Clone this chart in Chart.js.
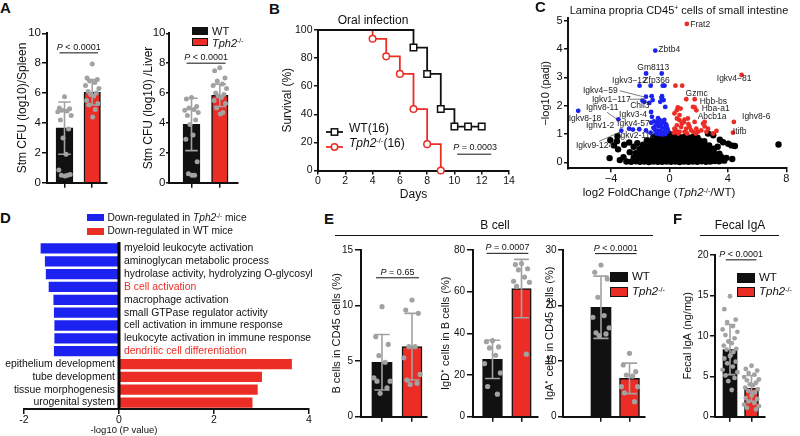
<!DOCTYPE html>
<html>
<head>
<meta charset="utf-8">
<script src="https://cdn.jsdelivr.net/npm/chart.js@4"></script>
<style>
body { margin: 0; background: #fff; }
#fig { position: relative; width: 800px; height: 436px; overflow: hidden; font-family: 'Liberation Sans', Arial, sans-serif; color: #111; }
#fig canvas { position: absolute; }
.t { position: absolute; white-space: nowrap; line-height: 1; transform: translateY(-50%); }
.t.c { transform: translate(-50%, -50%); }
.t sup { font-size: 0.62em; vertical-align: 0.5em; line-height: 0; }
.sw { position: absolute; box-sizing: border-box; }
.rule { position: absolute; height: 0; border-top: 1.5px solid #111; }
</style>
</head>
<body>
<div id="fig"></div>
<script>
// ---------- data ----------

// A: Stm CFU (log10), WT vs Tph2-/-
const spleenWT = [5.75, 5.0, 4.95, 4.85, 4.8, 4.75, 4.5, 4.2, 3.6, 3.0, 1.9, 0.85, 0.55, 0.5, 0.5, 0.45];
const spleenKO = [7.95, 7.0, 6.9, 6.8, 6.7, 6.5, 6.3, 6.1, 6.0, 5.9, 5.8, 5.5, 5.3, 5.2, 4.9, 4.4];
const spleenMean = [3.65, 6.05];
const spleenSD = [1.75, 0.85];
const liverWT = [5.7, 5.6, 5.1, 5.0, 4.9, 4.85, 4.7, 4.5, 4.2, 3.9, 3.2, 2.9, 1.4, 0.6, 0.5, 0.5];
const liverKO = [7.7, 7.5, 7.0, 6.8, 6.6, 6.5, 6.3, 6.0, 5.9, 5.8, 5.7, 5.5, 5.3, 5.0, 4.7, 4.6];
const liverMean = [3.9, 5.85];
const liverSD = [1.75, 0.75];

// B: survival after oral infection
const wtDays = [0, 7, 8, 9, 10, 11, 12];
const wtSurvival = [100, 87.5, 68.75, 43.75, 31.25, 31.25, 31.25];
const koDays = [0, 4, 5, 6, 7, 8, 9];
const koSurvival = [100, 93.75, 81.25, 68.75, 43.75, 18.75, 0];

// C: volcano, [log2FC, -log10 padj]
const volcanoRed = [
  [1.19, 4.89], [4.94, 3.09], [0.41, 2.71], [0.87, 2.71], [1.15, 2.23], [1.73, 2.23],
  [0.57, 1.94], [0.5, 1.84], [1.61, 1.96], [1.73, 1.94], [1.84, 1.84], [0.76, 1.9],
  [4.41, 1.43], [4.35, 1.05], [2.41, 1.43], [2.41, 1.27], [2.99, 1.02], [3.22, 1.11],
  [2.64, 1.19], [2.3, 1.37], [0.51, 1.55], [0.69, 1.49], [1.03, 1.51], [1.26, 1.55],
  [0.51, 1.31], [0.8, 1.25], [1.15, 1.19], [1.49, 1.13], [1.84, 1.19], [2.18, 1.13],
  [2.53, 1.08], [0.46, 1.13], [0.69, 1.08], [1.03, 1.08], [1.61, 1.08], [1.95, 1.08],
  [0.34, 1.73], [0.69, 1.67], [0.99, 1.42], [1.72, 1.43], [0.34, 1.19], [1.38, 1.25],
  [0.3, 1.05], [0.85, 1.38], [1.3, 1.35], [0.6, 1.02], [1.2, 1.02], [1.8, 1.02]
];
const volcanoBlue = [
  [-0.97, 3.95], [-1.6, 3.14], [-0.53, 3.14], [-2.05, 2.71], [-1.29, 2.71], [-0.46, 2.71],
  [-0.34, 2.71], [-1.61, 2.32], [-1.22, 2.34], [-1.15, 2.2], [-1.38, 2.1], [-1.72, 2.14],
  [-1.85, 2.18], [-0.51, 2.34], [-0.4, 2.2], [-0.63, 2.14], [-0.29, 1.96], [-0.55, 2.28],
  [-6.25, 1.82], [-1.26, 1.78], [-3.5, 1.52], [-1.2, 1.61], [-0.78, 1.56], [-3.3, 1.12],
  [-2.76, 1.19], [-2.5, 1.16], [-2.07, 1.17], [-1.61, 1.13], [-1.05, 1.45], [-0.85, 1.42],
  [-0.65, 1.48], [-0.45, 1.4], [-0.25, 1.35], [-0.95, 1.3], [-0.75, 1.28], [-0.55, 1.25],
  [-0.35, 1.22], [-0.15, 1.2], [-1.0, 1.15], [-0.8, 1.12], [-0.6, 1.1], [-0.4, 1.08],
  [-0.2, 1.06], [-0.9, 1.02], [-0.7, 1.0], [-0.5, 0.98], [-0.3, 1.0], [-1.1, 1.22],
  [-0.6, 1.36], [-0.35, 1.5], [-0.2, 1.3], [-0.1, 1.12], [-1.25, 1.4], [-1.3, 1.05]
];
const volcanoOther = [
  [-2.95, 0.03], [-2.62, 0.02], [-2.3, 0.04], [-2.02, 0.02], [-1.72, 0.03], [-1.41, 0.01], [-1.1, 0.03],
  [-0.8, 0.02], [-0.5, 0.02], [-0.2, 0.03], [0.1, 0.02], [0.4, 0.03], [0.7, 0.01], [1.0, 0.03],
  [1.3, 0.02], [1.6, 0.03], [1.9, 0.02], [2.2, 0.04], [2.5, 0.02], [2.8, 0.03], [3.1, 0.05],
  [3.4, 0.04], [3.75, 0.06],
  [-3.15, 0.18], [-2.45, 0.17], [-2.15, 0.16], [-1.86, 0.18], [-1.55, 0.17], [-1.25, 0.16],
  [-0.95, 0.18], [-0.65, 0.17], [-0.35, 0.16], [-0.05, 0.17], [0.25, 0.18], [0.55, 0.16],
  [0.85, 0.17], [1.15, 0.18], [1.45, 0.16], [1.75, 0.17], [2.05, 0.18], [2.35, 0.16],
  [2.65, 0.17], [2.95, 0.18], [3.25, 0.17], [3.55, 0.19], [3.9, 0.16],
  [-2.32, 0.32], [-2.0, 0.31], [-1.7, 0.33], [-1.4, 0.32], [-1.1, 0.31], [-0.8, 0.33],
  [-0.5, 0.32], [-0.2, 0.31], [0.1, 0.32], [0.4, 0.33], [0.7, 0.31], [1.0, 0.32], [1.3, 0.33],
  [1.6, 0.31], [1.9, 0.32], [2.2, 0.33], [2.5, 0.31], [2.8, 0.32], [3.1, 0.3], [3.42, 0.31],
  [-2.05, 0.47], [-1.75, 0.46], [-1.45, 0.48], [-1.15, 0.47], [-0.85, 0.46], [-0.55, 0.48],
  [-0.25, 0.47], [0.05, 0.46], [0.35, 0.48], [0.65, 0.47], [0.95, 0.46], [1.25, 0.48],
  [1.55, 0.47], [1.85, 0.46], [2.15, 0.48], [2.45, 0.47], [2.75, 0.46], [3.05, 0.48],
  [-1.8, 0.62], [-1.5, 0.61], [-1.2, 0.63], [-0.9, 0.62], [-0.6, 0.61], [-0.3, 0.63], [0.0, 0.62],
  [0.3, 0.61], [0.6, 0.63], [0.9, 0.62], [1.2, 0.61], [1.5, 0.63], [1.8, 0.62], [2.1, 0.61],
  [2.4, 0.63], [2.72, 0.6],
  [-1.55, 0.77], [-1.25, 0.76], [-0.95, 0.78], [-0.65, 0.77], [-0.35, 0.76], [-0.05, 0.78],
  [0.25, 0.77], [0.55, 0.76], [0.85, 0.78], [1.15, 0.77], [1.45, 0.76], [1.75, 0.78],
  [2.05, 0.77], [2.38, 0.75],
  [-1.1, 0.9], [-0.8, 0.91], [-0.5, 0.89], [-0.2, 0.92], [0.1, 0.9], [0.4, 0.91], [0.7, 0.89],
  [1.0, 0.9], [1.3, 0.88], [1.6, 0.9], [1.92, 0.87], [-0.35, 1.0], [-0.05, 1.01], [0.2, 0.99],
  [-3.52, 0.46], [-3.1, 0.62], [-2.72, 0.36], [-3.6, 0.75], [-4.05, 0.78], [-3.56, 0.92],
  [-3.8, 0.6], [-2.76, 0.7], [-4.1, 0.15], [-3.4, 0.08], [-2.45, 0.55], [-2.2, 0.68],
  [4.02, 0.66], [4.48, 0.58], [4.25, 0.6], [3.67, 0.71], [3.45, 0.8], [3.0, 0.96],
  [2.64, 1.02], [7.47, 0.63], [3.3, 0.55], [4.3, 0.12]
];
const volcanoXTicks = [-4, 0, 4, 8];
const volcanoYTicks = [0, 1, 2, 3, 4, 5];
// gene name, label anchor (log2FC, -log10 padj)
const geneLabels = [
  ['Frat2', 1.43, 4.86], ['Zbtb4', -0.76, 3.97], ['Gm8113', -2.2, 3.33], ['Igkv3\u221212', -3.93, 2.87],
  ['Zfp366', -1.79, 2.87], ['Igkv4\u221281', 3.24, 2.94], ['Igkv4\u221259', -5.93, 2.52],
  ['Igkv1\u2212117', -5.31, 2.23], ['Chil3', -2.69, 1.99], ['Gzmc', 1.1, 2.41], ['Hbb-bs', 2.07, 2.16],
  ['Hba-a1', 2.21, 1.91], ['Ighv8-11', -5.72, 1.95], ['Igkv8-18', -6.9, 1.56], ['Igkv3-4', -3.45, 1.67],
  ['Abcb1a', 1.93, 1.63], ['Ighv8-6', 4.97, 1.63], ['Ighv1-2', -5.72, 1.28], ['Igkv4-57', -3.59, 1.35],
  ['Itifb', 4.34, 1.1], ['Igkv2-112', -3.52, 0.96], ['Igkv9-124', -6.41, 0.6]
];
const geneLeaders = [
  [-3.4, 2.53, -1.66, 2.3], [-2.76, 2.23, -1.79, 2.23], [-4.28, 1.77, -3.59, 1.52], [-4.83, 0.74, -3.45, 1.06]
];

// D: GO terms, signed -log10 (P value)
const goTerms = [
  'myeloid leukocyte activation', 'aminoglycan metabolic process', 'hydrolase activity, hydrolyzing O-glycosyl',
  'B cell activation', 'macrophage activation', 'small GTPase regulator activity',
  'cell activation in immune response', 'leukocyte activation in immune response', 'dendritic cell differentiation',
  'epithelium development', 'tube development', 'tissue morphogenesis', 'urogenital system'
];
const goValues = [-1.65, -1.56, -1.54, -1.48, -1.38, -1.37, -1.36, -1.36, -1.37, 3.64, 3.01, 2.92, 2.81];
const goHighlight = ['B cell activation', 'dendritic cell differentiation'];

// E: B cell subsets
const bcellWT = [9.9, 7.2, 6.5, 5.5, 4.9, 3.5, 3.2, 3.2, 2.6, 2.1];
const bcellKO = [10.5, 9.6, 9.3, 6.3, 6.3, 5.3, 3.8, 3.3, 3.0, 2.9];
const bcellMean = [4.9, 6.3];
const bcellSD = [2.5, 3.0];
const igdWT = [36.5, 36.0, 33.5, 33.0, 29.5, 25.5, 21.0, 14.5, 10.8];
const igdKO = [73.5, 73.0, 71.0, 70.5, 67.0, 65.0, 64.5, 62.5, 30.0];
const igdMean = [27.5, 61.5];
const igdSD = [9.2, 14.0];
const igaWT = [27.3, 26.0, 24.8, 21.5, 18.2, 17.9, 16.0, 15.1, 14.9, 14.6];
const igaKO = [11.4, 9.3, 8.1, 7.5, 7.3, 5.4, 5.4, 4.3, 2.7];
const igaMean = [19.7, 6.9];
const igaSD = [5.6, 2.75];

// F: fecal IgA (ng/mg)
const fecalWT = [14.9, 13.3, 12.0, 11.7, 11.2, 10.8, 10.5, 10.1, 9.7, 9.3, 9.1, 8.8, 8.4, 8.3, 8.0, 7.6,
  7.5, 7.2, 6.8, 6.6, 6.2, 5.8, 5.5, 5.1, 4.8, 4.4, 3.3];
const fecalKO = [6.3, 5.9, 5.7, 5.4, 5.2, 4.9, 4.6, 4.5, 4.2, 4.0, 3.9, 3.6, 3.4, 3.2, 3.0, 2.9, 2.6, 2.3,
  2.2, 1.9, 1.7, 1.5, 1.3, 1.1, 0.9];
const fecalMean = [8.3, 3.5];
const fecalSD = [3.1, 1.6];

// ---------- drawing ----------
const RED = '#ec2d26', BLUE = '#1c22f0', GRAY = '#a2a2a2', INK = '#111';
const FONT = "'Liberation Sans', Arial, sans-serif";
const TPH2 = '<i>Tph2</i><sup>-/-</sup>';
const JIT = [0, -5, 5, -2.5, 2.5, -6.5, 6.5, -4, 4, -1.5, 1.5, -5.5, 5.5, -3, 3, 0.5];

Chart.defaults.font.family = FONT;
Chart.defaults.color = INK;
Chart.defaults.animation = false;
Chart.defaults.events = [];
Chart.defaults.plugins.legend.display = false;
Chart.defaults.plugins.tooltip.enabled = false;

const fig = document.getElementById('fig');

function canvasAt(x, y, w, h) {
  const c = document.createElement('canvas');
  c.width = w; c.height = h;
  c.style.left = x + 'px'; c.style.top = y + 'px';
  c.style.width = w + 'px'; c.style.height = h + 'px';
  fig.appendChild(c);
  return c;
}

function text(html, x, y, size, opts = {}) {
  const d = document.createElement('div');
  d.className = 't' + (opts.center ? ' c' : '');
  d.style.left = x + 'px';
  d.style.top = y + 'px';
  d.style.fontSize = size + 'px';
  if (opts.bold) d.style.fontWeight = 'bold';
  if (opts.color) d.style.color = opts.color;
  d.innerHTML = html;
  fig.appendChild(d);
}

function swatch(x, y, w, h, color, border = true) {
  const d = document.createElement('div');
  d.className = 'sw';
  d.style.cssText = `left:${x}px;top:${y}px;width:${w}px;height:${h}px;background:${color};` +
    (border ? 'border:1px solid #111;' : '');
  fig.appendChild(d);
}

function rule(x, y, w) {
  const d = document.createElement('div');
  d.className = 'rule';
  d.style.cssText = `left:${x}px;top:${y}px;width:${w}px;`;
  fig.appendChild(d);
}

function zeroPad(s) {
  s.paddingLeft = 0; s.paddingRight = 0; s.paddingTop = 0; s.paddingBottom = 0;
}

function yAxis(o) {
  return {
    min: o.min, max: o.max,
    afterBuildTicks: o.ticks ? s => { s.ticks = o.ticks.map(v => ({ value: v })); } : undefined,
    ticks: { stepSize: o.step, font: { size: o.tick }, padding: o.pad, color: INK },
    grid: { drawOnChartArea: false, color: INK, lineWidth: 1.5, tickLength: o.tl },
    border: { color: INK, width: 2 },
    title: { display: true, text: o.title, font: { size: o.tsize }, padding: 0, color: INK },
    afterFit: s => { s.width = o.width; zeroPad(s); }
  };
}

// italic P followed by the rest, centred on cx
function pText(ctx, rest, cx, base, size) {
  ctx.font = `italic ${size}px ${FONT}`;
  const wP = ctx.measureText('P').width;
  ctx.font = `${size}px ${FONT}`;
  const wR = ctx.measureText(rest).width;
  const x0 = cx - (wP + wR) / 2;
  ctx.fillStyle = INK;
  ctx.textAlign = 'left';
  ctx.textBaseline = 'alphabetic';
  ctx.font = `italic ${size}px ${FONT}`;
  ctx.fillText('P', x0, base);
  ctx.font = `${size}px ${FONT}`;
  ctx.fillText(rest, x0 + wP, base);
}

function errorBars(o) {
  return {
    id: 'errorBars',
    afterDatasetDraw(chart, args) {
      if (args.meta.type !== 'bar') return;
      const { ctx, scales: { x, y } } = chart;
      ctx.save();
      ctx.strokeStyle = GRAY;
      ctx.lineWidth = 1.6;
      o.means.forEach((m, i) => {
        const px = x.getPixelForValue(i);
        const hi = y.getPixelForValue(m + o.sds[i]), lo = y.getPixelForValue(m - o.sds[i]);
        const w = o.barW * 0.38;
        ctx.beginPath();
        ctx.moveTo(px, hi); ctx.lineTo(px, lo);
        ctx.moveTo(px - w, hi); ctx.lineTo(px + w, hi);
        ctx.moveTo(px - w, lo); ctx.lineTo(px + w, lo);
        ctx.stroke();
      });
      ctx.restore();
    }
  };
}

function pBracket(o) {
  return {
    id: 'pBracket',
    afterDraw(chart) {
      const { ctx, scales: { x, y } } = chart;
      const xa = x.getPixelForValue(0) - o.barW * 0.3, xb = x.getPixelForValue(1) + o.barW * 0.35;
      const py = y.getPixelForValue(o.pY);
      ctx.save();
      ctx.strokeStyle = INK;
      ctx.lineWidth = 1;
      ctx.beginPath(); ctx.moveTo(xa, py); ctx.lineTo(xb, py); ctx.stroke();
      pText(ctx, o.pText, (xa + xb) / 2, py - 3, 9);
      ctx.restore();
    }
  };
}

// bar (mean) + SD + individual dots, two groups
function dotBarPanel(o) {
  const [x0, y0, x1, y1] = o.plot;
  const cl = Math.round(o.titleX - o.tsize * 0.6), ct = Math.round(y0 - 12);
  const cr = Math.round(x1 + 6), cb = Math.round(y1 + 9);
  const cv = canvasAt(cl, ct, cr - cl, cb - ct);
  const unit = o.centers[1] - o.centers[0];
  const xmin = -(o.centers[0] - x0) / unit, xmax = 1 + (x1 - o.centers[1]) / unit;
  const k = (o.spread || 1) * o.barW / 16;
  const dots = [];
  o.dots.forEach((vals, g) => vals.forEach((v, i) => {
    dots.push({ x: g + JIT[i % JIT.length] * k / unit, y: v });
  }));
  new Chart(cv, {
    type: 'bar',
    data: {
      datasets: [
        {
          order: 2,
          data: o.means.map((m, i) => ({ x: i, y: m })),
          backgroundColor: [INK, RED],
          borderColor: INK,
          borderWidth: [0, 1.5],
          barThickness: o.barW
        },
        {
          type: 'scatter',
          order: 1,
          data: dots,
          pointRadius: o.dotR,
          pointBackgroundColor: GRAY,
          pointBorderWidth: 0
        }
      ]
    },
    options: {
      responsive: false,
      layout: { padding: { top: y0 - ct, right: cr - x1, left: 0, bottom: 0 } },
      scales: {
        x: {
          type: 'linear', min: xmin, max: xmax, offset: false,
          afterBuildTicks: s => { s.ticks = [{ value: 0 }, { value: 1 }]; },
          ticks: { display: false },
          grid: { drawOnChartArea: false, offset: false, color: INK, lineWidth: 1.5, tickLength: 5 },
          border: { color: INK, width: 2 },
          afterFit: s => { s.height = cb - y1; zeroPad(s); }
        },
        y: yAxis({ min: 0, max: o.max, step: o.step, tick: o.tick, tl: o.tl, pad: o.pad,
          title: o.title, tsize: o.tsize, width: x0 - cl })
      }
    },
    plugins: [errorBars(o), pBracket(o)]
  });
}

// ---- panel A ----
dotBarPanel({ plot: [47, 33.3, 107, 182.7], centers: [64.5, 92.2], barW: 16.5, max: 10, step: 2,
  means: spleenMean, sds: spleenSD, dots: [spleenWT, spleenKO], dotR: 2.5,
  title: 'Stm CFU (log10)/Spleen', titleX: 21.7, tsize: 12, tick: 11.5, tl: 5, pad: 1,
  pY: 8.69, pText: ' < 0.0001' });
dotBarPanel({ plot: [169, 33.3, 238, 182.7], centers: [191.5, 219.8], barW: 16.5, max: 10, step: 2,
  means: liverMean, sds: liverSD, dots: [liverWT, liverKO], dotR: 2.5,
  title: 'Stm CFU (log10) /Liver', titleX: 148, tsize: 12, tick: 11.5, tl: 3, pad: 0.5,
  pY: 8.0, pText: ' < 0.0001' });

// ---- panel B ----
(function survival() {
  const x0 = 318, y0 = 30, x1 = 509, y1 = 170.5;
  const cl = Math.round(286.7 - 7.2), ct = 20, cr = 522, cb = 202;
  const cv = canvasAt(cl, ct, cr - cl, cb - ct);
  const note = { from: 10.2, to: 12.7, y: 11.6, text: ' = 0.0003' };
  new Chart(cv, {
    type: 'line',
    data: {
      datasets: [
        {
          data: wtDays.map((d, i) => ({ x: d, y: wtSurvival[i] })),
          stepped: true, borderColor: INK, borderWidth: 1.8, clip: false,
          pointStyle: 'rect', pointRadius: wtDays.map((d, i) => (i ? 4.6 : 0)),
          pointBackgroundColor: '#fff', pointBorderColor: INK, pointBorderWidth: 1.5
        },
        {
          data: koDays.map((d, i) => ({ x: d, y: koSurvival[i] })),
          stepped: true, borderColor: RED, borderWidth: 1.8, clip: false,
          pointStyle: 'circle', pointRadius: koDays.map((d, i) => (i ? 3.3 : 0)),
          pointBackgroundColor: '#fff', pointBorderColor: RED, pointBorderWidth: 1.5
        }
      ]
    },
    options: {
      responsive: false,
      layout: { padding: { top: y0 - ct, right: cr - x1, left: 0, bottom: 0 } },
      scales: {
        x: {
          type: 'linear', min: 0, max: 14,
          ticks: { stepSize: 2, font: { size: 10.5 }, padding: 0, color: INK },
          grid: { drawOnChartArea: false, color: INK, lineWidth: 1.5, tickLength: 4 },
          border: { color: INK, width: 2 },
          title: { display: true, text: 'Days', font: { size: 12 }, padding: 0, color: INK },
          afterFit: s => { s.height = cb - y1; zeroPad(s); }
        },
        y: yAxis({ min: 0, max: 100, step: 20, tick: 10.5, tl: 4, pad: 1.5,
          title: 'Survival (%)', tsize: 12, width: x0 - cl })
      }
    },
    plugins: [{
      id: 'logrank',
      afterDraw(chart) {
        const { ctx, scales: { x, y } } = chart;
        const xa = x.getPixelForValue(note.from), xb = x.getPixelForValue(note.to), py = y.getPixelForValue(note.y);
        ctx.save();
        ctx.strokeStyle = INK; ctx.lineWidth = 1;
        ctx.beginPath(); ctx.moveTo(xa, py); ctx.lineTo(xb, py); ctx.stroke();
        pText(ctx, note.text, (xa + xb) / 2 + 1, py - 4, 9);
        ctx.restore();
      }
    }]
  });
})();

// ---- panel C ----
(function volcano() {
  const x0 = 568, y0 = 18.3, x1 = 787, y1 = 168.3;
  const cl = Math.round(546 - 6.6), ct = 8, cr = 800, cb = 185;
  const cv = canvasAt(cl, ct, cr - cl, cb - ct);
  const pts = arr => arr.map(([x, y]) => ({ x, y }));
  new Chart(cv, {
    type: 'scatter',
    data: {
      datasets: [
        { data: pts(volcanoRed), pointRadius: 2.4, pointBackgroundColor: RED, pointBorderWidth: 0 },
        { data: pts(volcanoBlue), pointRadius: 2.4, pointBackgroundColor: BLUE, pointBorderWidth: 0 },
        { data: pts(volcanoOther), pointRadius: 3.2, pointBackgroundColor: '#000', pointBorderWidth: 0 }
      ]
    },
    options: {
      responsive: false,
      layout: { padding: { top: y0 - ct, right: cr - x1, left: 0, bottom: 0 } },
      scales: {
        x: {
          type: 'linear', min: -6.95, max: 8.05,
          afterBuildTicks: s => { s.ticks = volcanoXTicks.map(v => ({ value: v })); },
          ticks: { font: { size: 11 }, padding: 0, color: INK, callback: v => String(v).replace('-', '\u2212') },
          grid: { drawOnChartArea: false, color: INK, lineWidth: 1.5, tickLength: 4 },
          border: { color: INK, width: 2 },
          afterFit: s => { s.height = cb - y1; zeroPad(s); }
        },
        y: yAxis({ min: -0.21, max: 5.09, ticks: volcanoYTicks, tick: 11, tl: 4, pad: 1.5,
          title: '\u2212log10 (padj)', tsize: 11, width: x0 - cl })
      }
    },
    plugins: [{
      id: 'geneLabels',
      afterDatasetsDraw(chart) {
        const { ctx, scales: { x, y } } = chart;
        ctx.save();
        ctx.strokeStyle = '#444'; ctx.lineWidth = 0.7;
        geneLeaders.forEach(([a, b, c, d]) => {
          ctx.beginPath();
          ctx.moveTo(x.getPixelForValue(a), y.getPixelForValue(b));
          ctx.lineTo(x.getPixelForValue(c), y.getPixelForValue(d));
          ctx.stroke();
        });
        ctx.fillStyle = '#222';
        ctx.font = `8.5px ${FONT}`;
        ctx.textBaseline = 'middle';
        ctx.textAlign = 'left';
        geneLabels.forEach(([t, a, b]) => ctx.fillText(t, x.getPixelForValue(a), y.getPixelForValue(b)));
        ctx.restore();
      }
    }]
  });
})();

// ---- panel D ----
(function goBars() {
  const x0 = 24, y0 = 242, x1 = 309, y1 = 409;
  const cl = 0, ct = 232, cr = 330, cb = 430;
  const cv = canvasAt(cl, ct, cr - cl, cb - ct);
  new Chart(cv, {
    type: 'bar',
    data: {
      labels: goTerms,
      datasets: [{
        data: goValues,
        backgroundColor: goValues.map(v => (v < 0 ? BLUE : RED)),
        barPercentage: 0.8, categoryPercentage: 1
      }]
    },
    options: {
      indexAxis: 'y',
      responsive: false,
      layout: { padding: { top: y0 - ct, right: cr - x1, left: x0 - cl, bottom: 0 } },
      scales: {
        y: { display: false },
        x: {
          min: -2, max: 4,
          ticks: { stepSize: 2, font: { size: 10.5 }, padding: 0, color: INK },
          grid: { drawOnChartArea: false, color: INK, lineWidth: 1.5, tickLength: 5 },
          border: { color: INK, width: 2 },
          afterFit: s => { s.height = cb - y1; zeroPad(s); }
        }
      }
    },
    plugins: [{
      id: 'goLabels',
      afterDatasetsDraw(chart) {
        const { ctx, chartArea, scales: { x } } = chart;
        const zx = x.getPixelForValue(0);
        const bars = chart.getDatasetMeta(0).data;
        ctx.save();
        ctx.strokeStyle = '#000'; ctx.lineWidth = 3;
        ctx.beginPath(); ctx.moveTo(zx, chartArea.top); ctx.lineTo(zx, chartArea.bottom); ctx.stroke();
        ctx.font = `10.4px ${FONT}`;
        ctx.textBaseline = 'middle';
        goTerms.forEach((t, i) => {
          ctx.fillStyle = goHighlight.includes(t) ? RED : INK;
          if (goValues[i] < 0) { ctx.textAlign = 'left'; ctx.fillText(t, zx + 5, bars[i].y); }
          else { ctx.textAlign = 'right'; ctx.fillText(t, zx - 4, bars[i].y); }
        });
        ctx.restore();
      }
    }]
  });
})();

// ---- panel E ----
dotBarPanel({ plot: [361, 250, 427, 416.7], centers: [382, 412], barW: 20, max: 15, step: 5,
  means: bcellMean, sds: bcellSD, dots: [bcellWT, bcellKO], dotR: 2.6,
  title: 'B cells in CD45 cells (%)', titleX: 336.7, tsize: 11, tick: 10, tl: 6, pad: 2,
  pY: 12.5, pText: ' = 0.65' });
dotBarPanel({ plot: [473, 250, 538, 416.7], centers: [492.5, 521.5], barW: 19.5, max: 80, step: 20,
  means: igdMean, sds: igdSD, dots: [igdWT, igdKO], dotR: 2.6,
  title: 'IgD\u207A cells in B cells (%)', titleX: 446, tsize: 11, tick: 10, tl: 6, pad: 2,
  pY: 78.4, pText: ' = 0.0007' });
dotBarPanel({ plot: [563, 250, 645, 416.7], centers: [601, 629.5], barW: 20, max: 30, step: 10,
  means: igaMean, sds: igaSD, dots: [igaWT, igaKO], dotR: 2.6,
  title: 'IgA\u207A cells in CD45 cells (%)', titleX: 550, tsize: 11, tick: 10, tl: 5, pad: 1.5,
  pY: 29.35, pText: ' < 0.0001' });

// ---- panel F ----
dotBarPanel({ plot: [715, 255, 765, 416.7], centers: [730, 751.5], barW: 14, max: 20, step: 5,
  means: fecalMean, sds: fecalSD, dots: [fecalWT, fecalKO], dotR: 2.4, spread: 1.3,
  title: 'Fecal IgA (ng/mg)', titleX: 688, tsize: 11, tick: 10, tl: 5, pad: 1.5,
  pY: 19.4, pText: ' < 0.0001' });

// ---------- text, legends, rules ----------
[['A', 0, 7], ['B', 269, 7.5], ['C', 535, 6], ['D', 0, 217], ['E', 324, 217.5], ['F', 673, 217.5]]
  .forEach(([l, x, y]) => text(l, x, y, 15, { bold: true }));

swatch(192, 27, 16, 7.5, INK);
swatch(192, 38, 16, 7.5, RED);
text('WT', 212, 31, 11);
text(TPH2, 212, 42.5, 11);

text('Oral infection', 373, 20, 12, { center: true });
function kmKey(x, y, color, marker) {
  const d = document.createElement('div');
  d.style.cssText = `position:absolute;left:${x}px;top:${y - 5}px;width:18px;height:10px;`;
  d.innerHTML = `<svg width="18" height="10"><line x1="0" y1="5" x2="17" y2="5" stroke="${color}" stroke-width="1.8"/>${marker}</svg>`;
  fig.appendChild(d);
}
kmKey(326, 128, INK, `<rect x="5.3" y="1.8" width="6.4" height="6.4" fill="#fff" stroke="${INK}" stroke-width="1.5"/>`);
kmKey(326, 143, RED, `<circle cx="8.5" cy="5" r="3.2" fill="#fff" stroke="${RED}" stroke-width="1.5"/>`);
text('WT(16)', 349, 128, 12);
text(TPH2 + '(16)', 349, 143, 12);

text('Lamina propria CD45<sup>+</sup> cells of small intestine', 679, 10, 11, { center: true });
text('log2 FoldChange (' + TPH2 + '/WT)', 659, 193, 11.5, { center: true });

swatch(87, 214, 17, 7, BLUE, false);
swatch(87, 227.5, 17, 7.5, RED, false);
text('Down-regulated in ' + TPH2 + ' mice', 107.5, 218, 10.2);
text('Down-regulated in WT mice', 107.5, 231, 10.2);
text('-log10 (P value)', 124, 430, 9.5, { center: true });

text('B cell', 495, 225, 12, { center: true });
rule(335, 234.5, 318);
swatch(610, 272, 18, 10, INK);
swatch(610, 287, 18, 10, RED);
text('WT', 632, 277, 11.5);
text(TPH2, 632, 292, 11.5);

text('Fecal IgA', 740, 225, 12, { center: true });
rule(700, 234.5, 79);
swatch(737, 273, 18, 9.5, INK);
swatch(737, 287, 18, 10, RED);
text('WT', 759, 278, 11.5);
text(TPH2, 759, 292, 11.5);
</script>
</body>
</html>
